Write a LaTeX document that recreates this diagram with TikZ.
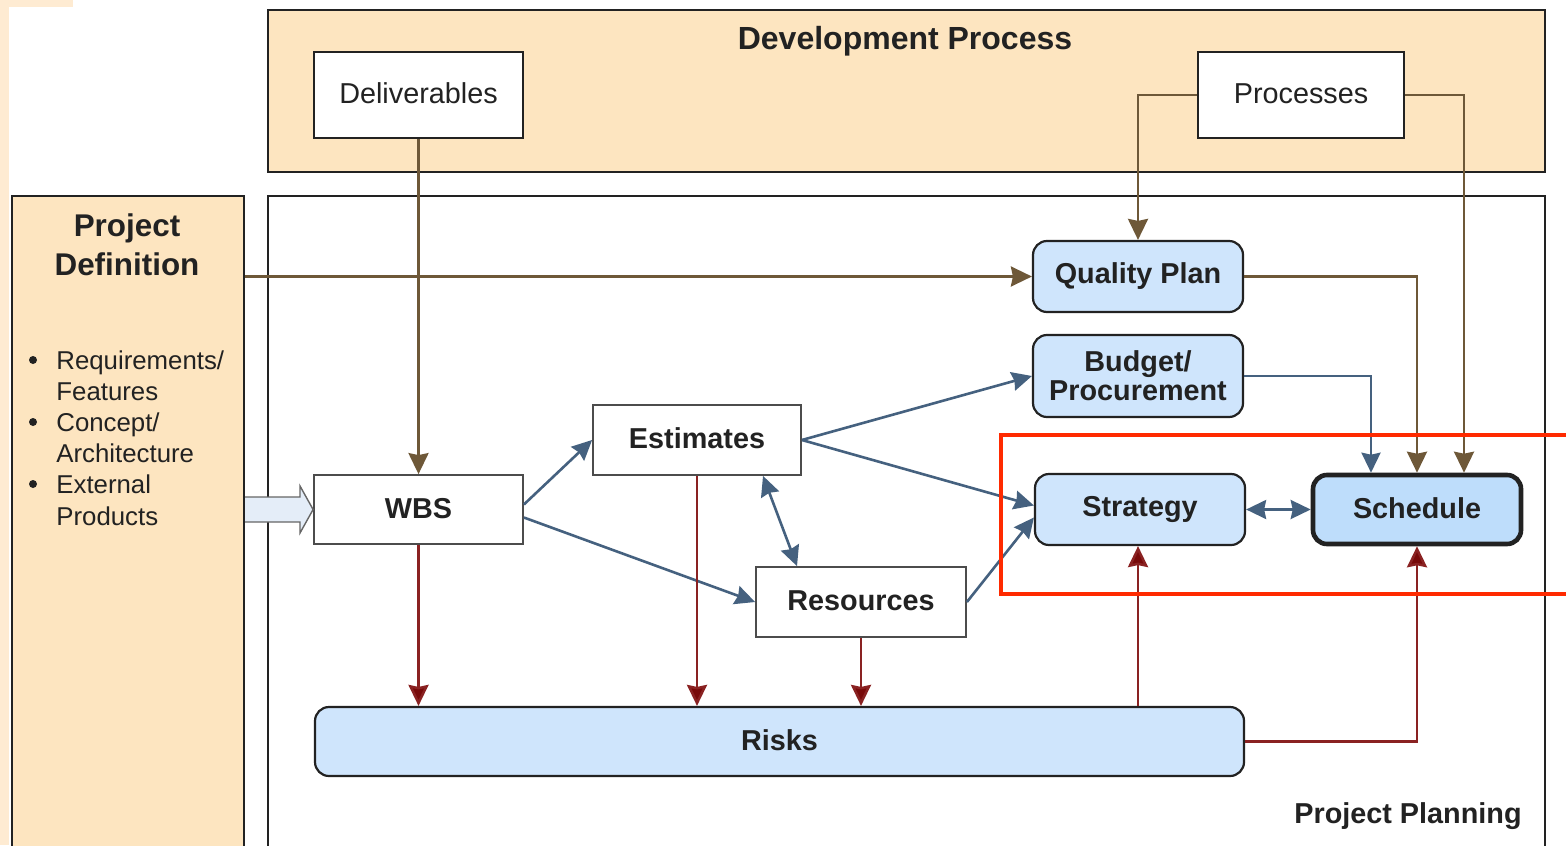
\documentclass[tikz,border=0pt]{standalone}
\usepackage{fontspec}
\setmainfont{Liberation Sans}
\usetikzlibrary{arrows.meta,calc}
\definecolor{beige}{HTML}{FDE5C0}
\definecolor{beigelt}{HTML}{FEEBD2}
\definecolor{boxblue}{HTML}{CFE5FC}
\definecolor{schedblue}{HTML}{BEDDFB}
\definecolor{arrowfill}{HTML}{E4EDF8}
\definecolor{brownln}{HTML}{6E5838}
\definecolor{blueln}{HTML}{45617F}
\definecolor{redln}{HTML}{8A2222}
\definecolor{redtip}{HTML}{780A0A}
\definecolor{txt}{HTML}{222222}
\definecolor{hilite}{HTML}{FF2A00}
\tikzset{
  maintext/.style={font=\fontsize{14.4}{15}\selectfont, text=txt},
  boldtext/.style={font=\fontsize{14.4}{14.5}\selectfont\bfseries, text=txt},
  container/.style={draw=txt, line width=1.1pt},
  whitebox/.style={draw=txt, line width=1.1pt, fill=white, maintext},
  graybox/.style={draw=black!70, line width=0.9pt, fill=white, boldtext},
  bluebox/.style={draw=txt, line width=1.1pt, fill=boxblue, rounded corners=7pt, boldtext, align=center},
  tip/.style={Stealth[length=10.5pt,width=10pt,inset=1pt]},
  brownarrow/.style={draw=brownln, line width=1.25pt, -{Stealth[length=10.5pt,width=10pt,inset=1pt]}},
  bluearrow/.style={draw=blueln, line width=1.3pt, -{Stealth[length=10pt,width=9.5pt,inset=1pt]}},
  bluedouble/.style={draw=blueln, line width=1.3pt, {Stealth[length=10pt,width=9.5pt,inset=1pt]}-{Stealth[length=10pt,width=9.5pt,inset=1pt]}},
  redarrow/.style={draw=redln, line width=1.25pt, -{Stealth[length=10.5pt,width=10pt,inset=1pt,fill=redtip]}},
  bullettext/.style={anchor=base west, font=\fontsize{12.9}{15.5}\selectfont, text=txt, inner sep=0pt},
}
\begin{document}
\begin{tikzpicture}[x=0.5pt,y=-0.5pt]
\useasboundingbox (0,0) rectangle (1566,845);
\fill[white] (0,0) rectangle (1566,845);
% edge artifacts
\fill[beigelt] (0,0) rectangle (73,7);
\fill[beigelt] (0,0) rectangle (9,845);

% containers
\node[container, fill=beige, minimum width=638.5pt, minimum height=81pt, inner sep=0pt] (dev) at (906.5,91) {};
\node[font=\fontsize{16}{16}\selectfont\bfseries, text=txt] (devtitle) at (905,41) {Development Process};
\node[container, fill=white, minimum width=638.5pt, minimum height=330pt, inner sep=0pt] (plan) at (906.5,526) {};
\node[boldtext, anchor=base east, inner sep=0pt] (plantitle) at (1522,823) {Project Planning};
\node[container, fill=beige, minimum width=116pt, minimum height=330pt, inner sep=0pt] (pdef) at (128,526) {};
\node[font=\fontsize{15.7}{19.5}\selectfont\bfseries, text=txt, align=center] (pdeftitle) at (127,245) {Project\\Definition};

% bullets
\fill[txt] (33,360) circle (4);
\fill[txt] (33,422) circle (4);
\fill[txt] (33,484) circle (4);
\node[bullettext] (b1) at (56,369) {Requirements/};
\node[bullettext] (b2) at (56,400) {Features};
\node[bullettext] (b3) at (56,431) {Concept/};
\node[bullettext] (b4) at (56,462) {Architecture};
\node[bullettext] (b5) at (56,493) {External};
\node[bullettext] (b6) at (56,525) {Products};

% top boxes
\node[whitebox, minimum width=104.5pt, minimum height=43pt] (deliv) at (418.5,95) {\raisebox{1.5pt}{Deliverables}};
\node[whitebox, minimum width=103pt, minimum height=43pt] (proc) at (1301,95) {\raisebox{1.5pt}{Processes}};

% planning nodes
\node[graybox, minimum width=104.5pt, minimum height=34.5pt] (wbs) at (418.5,509.5) {\raisebox{1pt}{WBS}};
\node[graybox, minimum width=104pt, minimum height=35pt] (est) at (697,440) {\raisebox{1.5pt}{Estimates}};
\node[graybox, minimum width=105pt, minimum height=35pt] (res) at (861,602) {\raisebox{1pt}{Resources}};
\node[bluebox, minimum width=105pt, minimum height=35.5pt] (qp) at (1138,276.5) {\raisebox{1pt}{Quality Plan}};
\node[bluebox, minimum width=105pt, minimum height=41pt] (bud) at (1138,376) {Budget/\\Procurement};
\node[bluebox, minimum width=105pt, minimum height=35.5pt] (strat) at (1140,509.5) {\raisebox{1pt}{Strategy}};
\node[bluebox, fill=schedblue, line width=2.3pt, minimum width=104pt, minimum height=34.5pt] (sched) at (1417,509.5) {\raisebox{1.5pt}{Schedule}};
\node[bluebox, minimum width=464.5pt, minimum height=34.5pt] (risks) at (779.5,741.5) {\raisebox{1.5pt}{Risks}};

% block arrow from project definition to WBS
\draw[draw=black!60, fill=arrowfill, line width=0.7pt]
  (pdef.east |- 0,497) -- (300,497) -- (300,486) -- (wbs.west) -- (300,533) -- (300,522) -- (pdef.east |- 0,522);

% brown connectors
\draw[brownarrow] (deliv.south) -- (wbs.north);
\draw[brownarrow] (proc.west) -| (qp.north);
\draw[brownarrow] (proc.east) -| ($(sched.north)+(47,0)$);
\draw[brownarrow] (pdef.east |- qp.west) -- (qp.west);
\draw[brownarrow] (qp.east) -| (sched.north);

% blue connectors
\draw[bluearrow] (bud.east) -| ($(sched.north)+(-46,0)$);
\draw[bluearrow] ($(wbs.east)+(0,-5)$) -- (est.west);
\draw[bluearrow] ($(wbs.east)+(0,8)$) -- (res.west);
\draw[bluearrow] (est.east) -- (bud.west);
\draw[bluearrow] (est.east) -- ($(strat.west)+(0,-4)$);
\draw[bluearrow] (res.east) -- ($(strat.west)+(0,8)$);
\draw[bluedouble] ($(est.south)+(66,0)$) -- ($(res.north)+(-64,0)$);
\draw[bluedouble] (strat.east) -- (sched.west);

% red connectors
\draw[redarrow] (wbs.south) -- (wbs.south |- risks.north);
\draw[redarrow] (est.south) -- (est.south |- risks.north);
\draw[redarrow] (res.south) -- (res.south |- risks.north);
\draw[redarrow] ($(risks.north -| strat.south)+(-2,0)$) -- ($(strat.south)+(-2,0)$);
\draw[redarrow] (risks.east) -| (sched.south);

% highlight frame
\draw[hilite, line width=1.6pt] (1001,435) rectangle (1575,594);
\end{tikzpicture}
\end{document}
